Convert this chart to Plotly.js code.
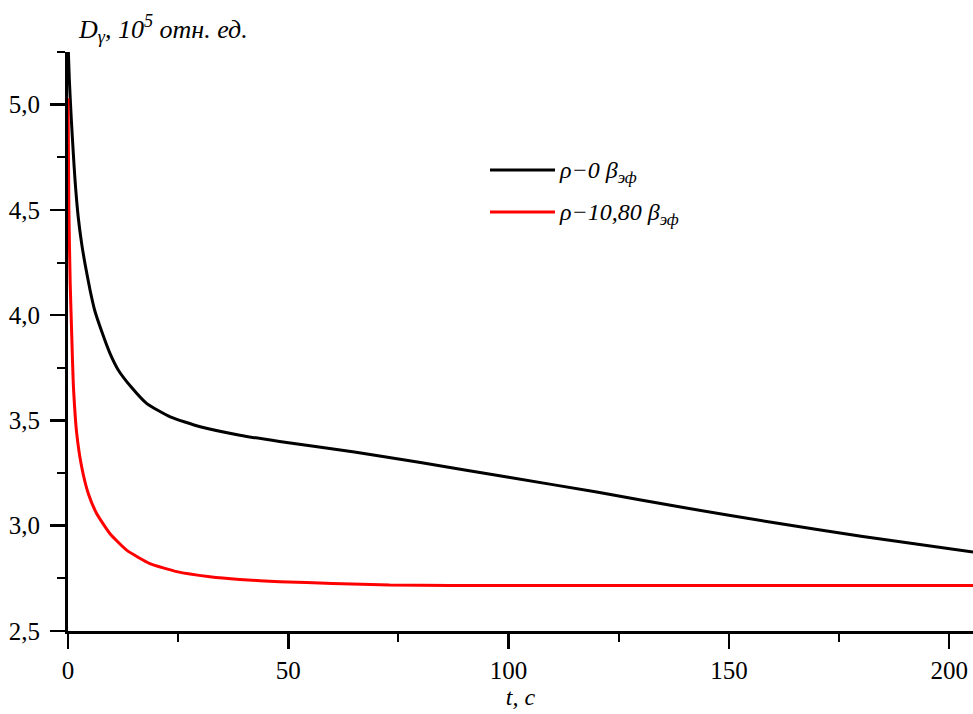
<!DOCTYPE html>
<html>
<head>
<meta charset="utf-8">
<script src="https://cdn.plot.ly/plotly-3.0.1.min.js"></script>
<style>html,body{margin:0;padding:0;background:#fff;}#chart{width:973px;height:714px;}</style>
</head>
<body>
<div id="chart"></div>
<script>
// Series: rho = 0 beta_eff (black)
var tBlack = [0, 0.3, 0.7, 1.2, 1.6, 2.3, 3.1, 3.9, 5.0, 6.1, 7.7, 9.5, 11.4, 14.3, 17.9, 23.2, 30, 39, 48, 65, 80, 100, 120, 140, 160, 180, 205.4];
var dBlack = [5.3, 5.12, 4.95, 4.77, 4.64, 4.47, 4.34, 4.24, 4.12, 4.02, 3.92, 3.82, 3.74, 3.66, 3.58, 3.517, 3.47, 3.43, 3.40, 3.35, 3.30, 3.23, 3.16, 3.085, 3.015, 2.95, 2.875];
// Series: rho = 10,80 beta_eff (red)
var tRed = [0, 0.2, 0.5, 0.84, 1.2, 1.97, 3.1, 4.6, 6.5, 9.5, 13.3, 18.6, 24.7, 32.2, 39, 48, 60, 73, 100, 150, 205.4];
var dRed = [5.03, 4.5, 4.15, 3.91, 3.675, 3.44, 3.28, 3.153, 3.058, 2.963, 2.884, 2.82, 2.782, 2.758, 2.745, 2.734, 2.726, 2.718, 2.716, 2.716, 2.716];
// Labels
var seriesNames = ["<i>ρ−0 β<sub>эф</sub></i>", "<i>ρ−10,80 β<sub>эф</sub></i>"];
var seriesColors = ["#000000", "#ff0000"];
var xTickVals = [0, 50, 100, 150, 200];
var yTickVals = [2.5, 3.0, 3.5, 4.0, 4.5, 5.0];
var xTitle = "<i>t, c</i>";
var yTitle = "<i>D<sub>γ</sub>, 10<sup>5</sup> отн. ед.</i>";

var font = "Liberation Serif, Times New Roman, serif";

var traces = [
  {x: tBlack, y: dBlack, mode: "lines", name: seriesNames[0], showlegend: false,
   line: {color: seriesColors[0], width: 3, shape: "spline", smoothing: 0.5}},
  {x: tRed, y: dRed, mode: "lines", name: seriesNames[1], showlegend: false,
   line: {color: seriesColors[1], width: 3, shape: "spline", smoothing: 0.5}}
];

// legend (drawn as paper-space decoration)
var plotL = 68, plotW = 905, plotB = 631, plotH = 579;
function px(x) { return (x - plotL) / plotW; }
function py(y) { return (plotB - y) / plotH; }
var legendRows = [170, 212];
var shapes = [], annotations = [];
legendRows.forEach(function (ry, i) {
  shapes.push({type: "line", xref: "paper", yref: "paper", x0: px(490), x1: px(555), y0: py(ry), y1: py(ry),
               line: {color: seriesColors[i], width: 3}});
  annotations.push({text: seriesNames[i], xref: "paper", yref: "paper", x: px(557), y: py(ry + 2),
                    xanchor: "left", yanchor: "middle", showarrow: false,
                    font: {family: font, size: 24, color: "#000"}});
});
annotations.push({text: yTitle, xref: "paper", yref: "paper", x: px(76), y: py(29),
                  xanchor: "left", yanchor: "middle", showarrow: false,
                  font: {family: font, size: 26, color: "#000"}});

var layout = {
  width: 973, height: 714,
  margin: {l: 68, r: 0, t: 52, b: 83, pad: 0},
  paper_bgcolor: "#ffffff", plot_bgcolor: "#ffffff",
  separators: ", ",
  font: {family: font, size: 25, color: "#000"},
  showlegend: false,
  shapes: shapes,
  annotations: annotations,
  xaxis: {
    range: [0, 205.4], showgrid: false, zeroline: false,
    showline: true, linecolor: "#000", linewidth: 3,
    ticks: "outside", ticklen: 15, tickwidth: 2.5, tickcolor: "#000",
    tickvals: xTickVals, ticklabelstandoff: 0,
    minor: {ticks: "outside", ticklen: 8, tickwidth: 2, tickcolor: "#000", dtick: 25, tick0: 0, showgrid: false},
    tickfont: {family: font, size: 25, color: "#000"},
    title: {text: xTitle, font: {family: font, size: 24, color: "#000"}, standoff: 6},
    automargin: false
  },
  yaxis: {
    range: [2.5, 5.25], showgrid: false, zeroline: false,
    showline: true, linecolor: "#000", linewidth: 3,
    ticks: "outside", ticklen: 15, tickwidth: 2.5, tickcolor: "#000",
    tickvals: yTickVals, tickformat: ".1f", ticklabelstandoff: 5,
    minor: {ticks: "outside", ticklen: 8, tickwidth: 2, tickcolor: "#000", dtick: 0.25, tick0: 2.5, showgrid: false},
    tickfont: {family: font, size: 25, color: "#000"},
    automargin: false
  }
};

Plotly.newPlot("chart", traces, layout, {displayModeBar: false, staticPlot: true});
</script>
</body>
</html>
